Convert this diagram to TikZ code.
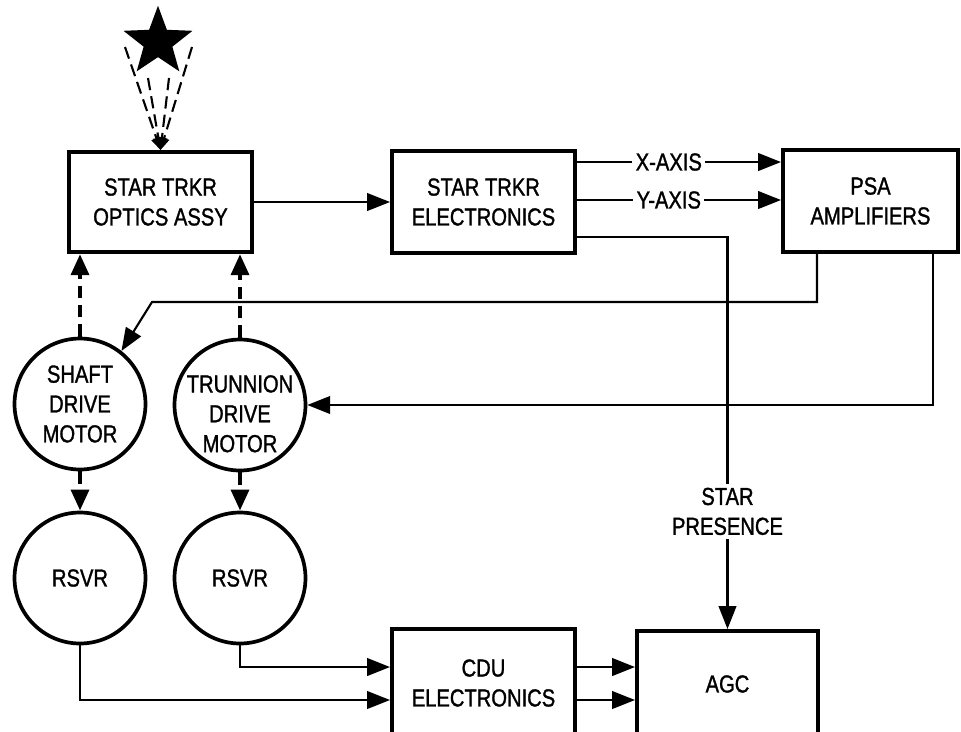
\documentclass[tikz,border=0pt]{standalone}
\usepackage{fontspec}
\setmainfont[FakeStretch=0.82,FakeBold=1.2]{Liberation Sans}
\usetikzlibrary{arrows.meta,shapes.geometric}

\begin{document}
\begin{tikzpicture}[x=0.02cm,y=-0.02cm,
  font=\fontsize{14}{17}\selectfont,
  blk/.style={draw,line width=2.3pt,align=center,inner sep=0pt},
  motor/.style={draw,circle,line width=2.1pt,minimum size=2.62cm,inner sep=0pt},
  arr/.style={line width=1.2pt,-{Triangle[length=13pt,width=10pt]}},
  drv/.style={line width=2.6pt,dash pattern=on 7pt off 4pt,-{Triangle[length=12pt,width=10pt]}},
  ray/.style={line width=1.2pt,dash pattern=on 7pt off 3.5pt,-{Triangle[length=7pt,width=6pt]}},
  lab/.style={fill=white,inner sep=2pt,align=center}]
\useasboundingbox (0,0) rectangle (961,731);

\node[star,star points=5,star point ratio=2.4,fill,minimum size=1.45cm,inner sep=0pt] (star) at (158,42) {};
\node[blk,minimum width=3.66cm,minimum height=2cm] (optics) at (160.5,202) {STAR TRKR\\OPTICS ASSY};
\node[blk,minimum width=3.66cm,minimum height=2.04cm] (elec) at (483.5,202) {STAR TRKR\\ELECTRONICS};
\node[blk,minimum width=3.5cm,minimum height=2.04cm] (psa) at (870.5,201) {PSA\\AMPLIFIERS};

\node[motor,label={[align=center]center:SHAFT\\DRIVE\\MOTOR}] (shaft) at (80,404) {};
\node[motor,label={[align=center,yshift=-5pt]center:TRUNNION\\DRIVE\\MOTOR}] (trun) at (240,405) {};
\node[motor] (rsvr1) at (80,578) {RSVR};
\node[motor] (rsvr2) at (240,578) {RSVR};

\node[blk,minimum width=3.66cm,minimum height=2.16cm] (cdu) at (483.5,683) {CDU\\ELECTRONICS};
\node[blk,minimum width=3.62cm,minimum height=2.12cm] (agc) at (727.5,684) {AGC};

% light from the star
\foreach \n/\x/\y in {1/125/47,2/148/78,3/169/78,4/192/47}
  \coordinate (ray\n) at (\x,\y);
\foreach \n in {1,...,4}
  \draw[ray] (ray\n) -- (optics.north);

% tracker signals
\coordinate (xout) at ([yshift=0.8cm]elec.east);
\coordinate (yout) at ([yshift=0.04cm]elec.east);
\coordinate (sout) at ([yshift=-0.7cm]elec.east);
\draw[arr] (optics.east) -- (elec.west);
\draw[arr] (xout) -- node[lab,pos=.45] {X-AXIS} (xout -| psa.west);
\draw[arr] (yout) -- node[lab,pos=.45] {Y-AXIS} (yout -| psa.west);
\draw[arr] (sout) -| node[lab,pos=.85] {STAR\\PRESENCE} (agc.north);

% motors
\draw[drv] (shaft.north) -- (shaft |- optics.south);
\draw[drv] (trun.north) -- (trun |- optics.south);
\draw[drv] (shaft.south) -- (rsvr1.north);
\draw[drv] (trun.south) -- (rsvr2.north);

% amplifier outputs
\coordinate (psal) at ([xshift=-1.07cm]psa.south);
\coordinate (psar) at ([xshift=1.25cm]psa.south);
\coordinate (bend) at (152,302);
\draw[arr] (psal) |- (bend) -- (shaft.52);
\draw[arr] (psar) |- (trun.east);

% resolvers
\coordinate (cdu1) at ([yshift=0.32cm]cdu.west);
\coordinate (cdu2) at ([yshift=-0.34cm]cdu.west);
\draw[arr] (rsvr2.south) |- (cdu1);
\draw[arr] (rsvr1.south) |- (cdu2);
\draw[arr] (cdu1 -| cdu.east) -- (cdu1 -| agc.west);
\draw[arr] (cdu2 -| cdu.east) -- (cdu2 -| agc.west);
\end{tikzpicture}
\end{document}
